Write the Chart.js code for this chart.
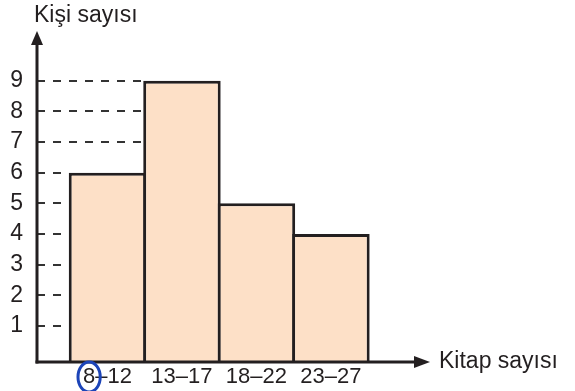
<!DOCTYPE html>
<html>
<head>
<meta charset="utf-8">
<script src="https://cdn.jsdelivr.net/npm/chart.js@4"></script>
<style>
  html, body { margin: 0; padding: 0; background: #fff; }
  #wrap { width: 575px; height: 391px; }
</style>
</head>
<body>
<div id="wrap"><canvas id="histChart" width="575" height="391"></canvas></div>
<script>
// Histogram: Kitap sayısı / Kişi sayısı
const groups = ['8–12', '13–17', '18–22', '23–27'];
const people = [6, 9, 5, 4];
const yTicks = [1, 2, 3, 4, 5, 6, 7, 8, 9];
const yTitle = 'Kişi sayısı';
const xTitle = 'Kitap sayısı';

const ink = '#231f20';
const fill = '#fde0c7';
const font = '"Liberation Sans", Arial, Helvetica, sans-serif';
const fontSize = 23;
const yMin = -0.18, yMax = 10.66;
const xMin = -0.946, xMax = 4.33;

// dashes, axes with arrows, titles and the blue ring round the "8"
const sketchPlugin = {
    id: 'sketch',
    beforeDatasetsDraw(chart) {
        const { ctx, chartArea } = chart;
        const yScale = chart.scales.y;
        const bars = chart.getDatasetMeta(0).data;
        ctx.save();
        ctx.setLineDash([8, 8]);
        ctx.lineWidth = 2;
        ctx.strokeStyle = '#333';
        yTicks.forEach(v => {
            const idx = people.findIndex(p => p >= v);
            if (idx < 0) return;
            const bar = bars[idx];
            const py = Math.round(yScale.getPixelForValue(v));
            ctx.beginPath();
            ctx.moveTo(chartArea.left, py);
            ctx.lineTo(bar.x - bar.width / 2, py);
            ctx.stroke();
        });
        ctx.restore();
    },
    afterDatasetsDraw(chart) {
        const { ctx, chartArea } = chart;
        const { left, right, top, bottom } = chartArea;
        ctx.save();
        ctx.strokeStyle = ink;
        ctx.fillStyle = ink;
        ctx.lineWidth = 3;
        // y axis
        ctx.beginPath();
        ctx.moveTo(left, bottom + 1.5);
        ctx.lineTo(left, top + 12);
        ctx.stroke();
        ctx.beginPath();
        ctx.moveTo(left, top + 1);
        ctx.lineTo(left - 6, top + 15);
        ctx.lineTo(left + 6, top + 15);
        ctx.closePath();
        ctx.fill();
        // x axis
        ctx.beginPath();
        ctx.moveTo(left - 1.5, bottom);
        ctx.lineTo(right - 12, bottom);
        ctx.stroke();
        ctx.beginPath();
        ctx.moveTo(right, bottom);
        ctx.lineTo(right - 16, bottom - 6);
        ctx.lineTo(right - 16, bottom + 6);
        ctx.closePath();
        ctx.fill();

        ctx.font = fontSize + 'px ' + font;
        ctx.textBaseline = 'middle';
        ctx.textAlign = 'left';
        ctx.fillText(yTitle, left - 3, 16);
        ctx.fillText(xTitle, right + 9, bottom);

        // blue circle round the first "8"
        ctx.font = (fontSize - 1) + 'px ' + font;
        const xScale = chart.scales.x;
        const cx = xScale.getPixelForValue(0);
        const w = ctx.measureText(groups[0]).width;
        const w8 = ctx.measureText(groups[0][0]).width;
        ctx.strokeStyle = '#1c44b8';
        ctx.lineWidth = 3;
        ctx.beginPath();
        ctx.ellipse(cx - w / 2 + w8 / 2, bottom + 15, w8 / 2 + 5, 15, 0, 0, Math.PI * 2);
        ctx.stroke();
        ctx.restore();
    }
};

const ctx = document.getElementById('histChart').getContext('2d');
new Chart(ctx, {
    type: 'bar',
    data: {
        datasets: [{
            data: people.map((p, i) => ({ x: i, y: p })),
            backgroundColor: fill,
            borderColor: ink,
            borderWidth: 3,
            base: yMin,
            barPercentage: 1.04,
            categoryPercentage: 1
        }]
    },
    options: {
        responsive: false,
        animation: false,
        layout: { padding: { top: 30, right: 145, left: 0, bottom: 0 } },
        plugins: {
            legend: { display: false },
            tooltip: { enabled: false }
        },
        scales: {
            x: {
                type: 'linear',
                offset: false,
                min: xMin,
                max: xMax,
                grid: { display: false, drawTicks: false, offset: false },
                border: { display: false },
                afterBuildTicks: scale => { scale.ticks = groups.map((g, i) => ({ value: i })); },
                afterFit: scale => { scale.height = 29; },
                ticks: {
                    padding: 2,
                    color: ink,
                    font: { family: font, size: fontSize - 1 },
                    callback: v => groups[v]
                }
            },
            y: {
                min: yMin,
                max: yMax,
                grid: { display: false, drawTicks: false },
                border: { display: false },
                afterBuildTicks: scale => { scale.ticks = yTicks.map(v => ({ value: v })); },
                afterFit: scale => { scale.width = 37; },
                ticks: {
                    padding: 14,
                    color: ink,
                    font: { family: font, size: fontSize }
                }
            }
        }
    },
    plugins: [sketchPlugin]
});
</script>
</body>
</html>
